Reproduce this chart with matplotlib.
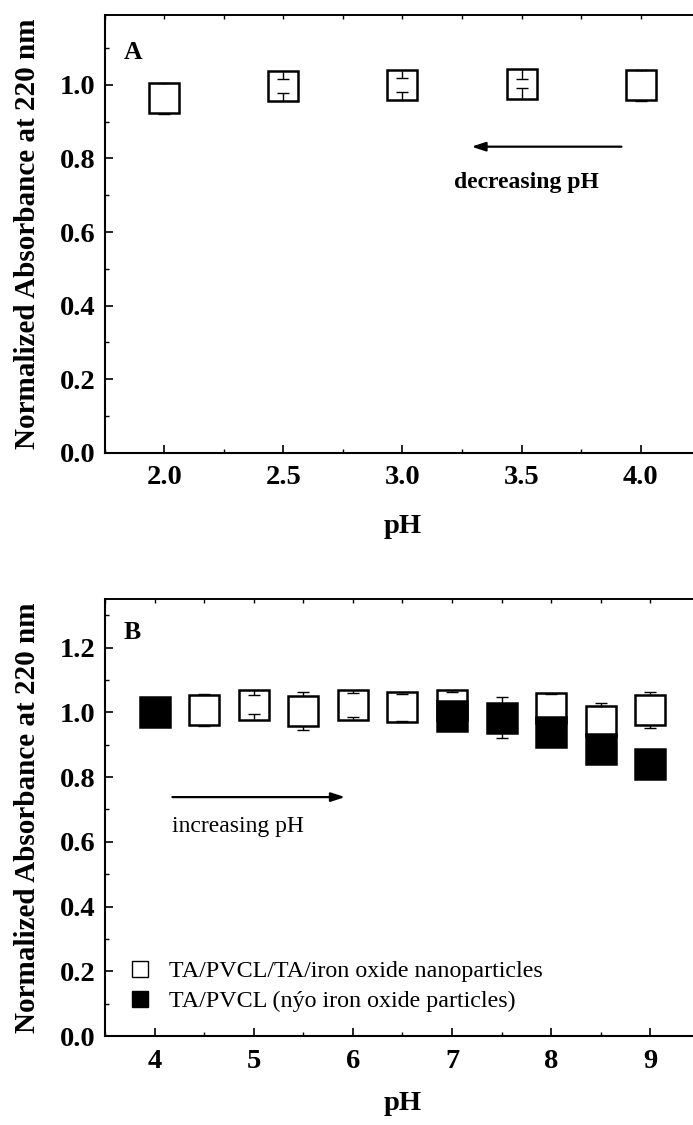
import matplotlib.pyplot as plt
import numpy as np
from matplotlib.lines import Line2D
from matplotlib.ticker import MultipleLocator, FormatStrFormatter

plt.rcParams['font.family'] = ['Liberation Serif', 'DejaVu Serif']

# Panel A data (acidic side)
ph_a = [2.0, 2.5, 3.0, 3.5, 4.0]
abs_a = [0.964, 0.996, 0.999, 1.003, 0.999]
err_a = [0.042, 0.019, 0.019, 0.0125, 0.042]

# Panel B data
ph_open = [4.5, 5.0, 5.5, 6.0, 6.5, 7.0, 8.0, 8.5, 9.0]
abs_open = [1.007, 1.024, 1.004, 1.024, 1.016, 1.023, 1.012, 0.972, 1.007]
err_open = [0.050, 0.029, 0.058, 0.037, 0.042, 0.040, 0.045, 0.058, 0.056]

ph_fill = [4.0, 7.0, 7.5, 8.0, 8.5, 9.0]
abs_fill = [1.000, 0.988, 0.983, 0.940, 0.887, 0.840]
err_fill = [0.030, 0.030, 0.063, 0.030, 0.030, 0.030]

label_open = 'TA/PVCL/TA/iron oxide nanoparticles'
label_fill = 'TA/PVCL (n\u00fdo iron oxide particles)'

DPI = 100
MS = 21      # marker side in points
MEW = 1.8
fig = plt.figure(figsize=(6.93, 11.25), dpi=DPI)
axA = fig.add_axes([105/693, 1 - 452.7/1125, 595/693, 437.7/1125])
axB = fig.add_axes([105/693, 1 - 1036/1125, 595/693, 437/1125])


def style(ax, xlim, ylim, xmaj, xmin, xfmt):
    ax.set_xlim(*xlim)
    ax.set_ylim(*ylim)
    ax.xaxis.set_major_locator(MultipleLocator(xmaj))
    ax.xaxis.set_minor_locator(MultipleLocator(xmin))
    ax.xaxis.set_major_formatter(FormatStrFormatter(xfmt))
    ax.yaxis.set_major_locator(MultipleLocator(0.2))
    ax.yaxis.set_minor_locator(MultipleLocator(0.1))
    ax.yaxis.set_major_formatter(FormatStrFormatter('%.1f'))
    ax.tick_params(which='major', direction='in', length=6, width=1.2,
                   labelsize=20.5, pad=7)
    ax.tick_params(which='minor', direction='in', length=3, width=1.0)
    ax.tick_params(axis='x', pad=9)
    for lab in ax.get_xticklabels() + ax.get_yticklabels():
        lab.set_fontweight('bold')
    for s in ['left', 'bottom', 'top']:
        ax.spines[s].set_linewidth(1.5)
    ax.spines['top'].set_linewidth(1.2)
    top = ax.secondary_xaxis('top')
    top.xaxis.set_major_locator(MultipleLocator(xmin))
    top.tick_params(direction='in', length=3, width=1.0, labeltop=False)
    top.spines['top'].set_linewidth(1.2)
    ax.set_ylabel('Normalized Absorbance at 220 nm', fontsize=21, fontweight='bold')
    ax.yaxis.set_label_coords(-0.108, 0.5)
    ax.set_xlabel('pH', fontsize=20.5, fontweight='bold')


def half_height(ax):
    # half of the marker side expressed in data units
    h_px = ax.get_position().height * fig.get_figheight() * DPI
    y0, y1 = ax.get_ylim()
    return (MS / 72 * DPI / 2) * (y1 - y0) / h_px


def points(ax, x, y, err, face, z):
    x = np.asarray(x)
    y = np.asarray(y)
    err = np.asarray(err)
    ax.plot(x, y, 's', ms=MS, mfc=face, mec='k', mew=MEW, ls='none', zorder=z)
    # error bars start from the symbol edge (Origin style)
    hh = half_height(ax)
    ax.vlines(x, y + hh, y + err, colors='k', lw=1.0, zorder=z + 1)
    ax.vlines(x, y - err, y - hh, colors='k', lw=1.0, zorder=z + 1)
    ax.plot(x, y + err, '_', ms=8, mew=1.0, color='k', ls='none', zorder=z + 1)
    ax.plot(x, y - err, '_', ms=8, mew=1.0, color='k', ls='none', zorder=z + 1)


# ---- Panel A ----
style(axA, (1.75, 4.25), (0, 1.19), 0.5, 0.25, '%.1f')
axA.xaxis.set_label_coords(0.5, -0.14)
points(axA, ph_a, abs_a, err_a, 'white', 3)
axA.text(1.83, 1.07, 'A', fontsize=18.5, fontweight='bold')
axA.annotate('', xy=(3.29, 0.832), xytext=(3.92, 0.832),
             arrowprops=dict(arrowstyle='-|>,head_length=0.55,head_width=0.18',
                             mutation_scale=15, lw=1.6, color='k',
                             shrinkA=0, shrinkB=0))
axA.text(3.52, 0.7185, 'decreasing pH', fontsize=17, fontweight='bold',
         ha='center', va='baseline')

# ---- Panel B ----
style(axB, (3.5, 9.5), (0, 1.35), 1, 0.5, '%d')
axB.xaxis.set_label_coords(0.5, -0.125)
points(axB, ph_open, abs_open, err_open, 'white', 3)
points(axB, ph_fill, abs_fill, err_fill, 'black', 5)
axB.text(3.69, 1.227, 'B', fontsize=18.5, fontweight='bold')
axB.annotate('', xy=(5.92, 0.738), xytext=(4.18, 0.738),
             arrowprops=dict(arrowstyle='-|>,head_length=0.55,head_width=0.18',
                             mutation_scale=15, lw=1.6, color='k',
                             shrinkA=0, shrinkB=0))
axB.text(4.18, 0.631, 'increasing pH', fontsize=17, ha='left', va='baseline')

handles = [
    Line2D([], [], marker='s', ms=11, mfc='white', mec='k', mew=1.0, ls='none'),
    Line2D([], [], marker='s', ms=11, mfc='black', mec='k', mew=1.0, ls='none'),
]
axB.legend(handles, [label_open, label_fill], loc='lower left',
           bbox_to_anchor=(0.038, 0.055), frameon=False, fontsize=17.3,
           handlelength=1.0, handletextpad=0.72, borderpad=0,
           borderaxespad=0, labelspacing=0.33)

fig.savefig('out.png', dpi=DPI)
